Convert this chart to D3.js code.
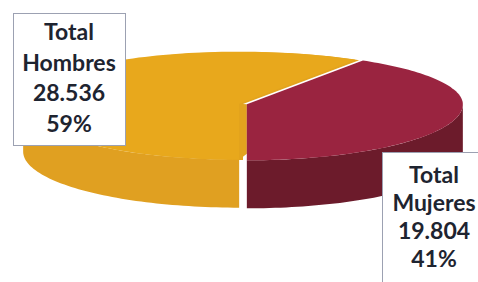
<!DOCTYPE html>
<html>
<head>
<meta charset="utf-8">
<script src="https://cdn.jsdelivr.net/npm/d3@7"></script>
<style>
  html, body { margin: 0; padding: 0; background: #fff; }
  svg { display: block; }
</style>
</head>
<body>
<div id="chart"></div>
<script>
const categories = ["Total Hombres", "Total Mujeres"];
const values = [28536, 19804];
const topColors = ["#e8a81c", "#9a2440"];
const sideColors = ["#e0a021", "#6c1b2b"];

const width = 478, height = 282;

const locale = d3.formatLocale({ decimal: ",", thousands: ".", grouping: [3], currency: ["", "€"] });
const fmtNum = locale.format(",d");
const fmtPct = d3.format(".0%");
const total = d3.sum(values);

// pie geometry (projected ellipse, slightly deeper in front)
const cx = 243, cy = 104, rx = 216, ryBack = 52, ryFront = 56, depth = 48, explode = 4;

const pie = d3.pie().sort(null).startAngle(Math.PI).endAngle(3 * Math.PI);
const arcs = pie(values);

function proj(a, r, dx, dy) {
  const c = Math.cos(a);
  const ry = c > 0 ? ryBack : ryFront;
  return [cx + dx + r * rx * Math.sin(a), cy + dy - r * ry * c];
}

const svg = d3.select("#chart").append("svg")
  .attr("width", width)
  .attr("height", height);

const line = d3.line();

function offset(d) {
  const mid = (d.startAngle + d.endAngle) / 2;
  return [explode * Math.sin(mid), -explode * 0.3 * Math.cos(mid)];
}

function topFace(d, dx, dy) {
  const n = 120;
  const pts = [proj(0, 0, dx, dy)].concat(
    d3.range(n + 1).map(j => proj(d.startAngle + (d.endAngle - d.startAngle) * j / n, 1, dx, dy))
  );
  return line(pts) + "Z";
}

// side walls (front half only: angle between PI/2 and 3PI/2, mod 2PI)
arcs.forEach((d, i) => {
  const [dx, dy] = offset(d);
  const segs = [];
  for (let k = 0; k < 2; k++) {
    const lo = Math.PI / 2 + k * 2 * Math.PI, hi = 3 * Math.PI / 2 + k * 2 * Math.PI;
    const a0 = Math.max(d.startAngle, lo), a1 = Math.min(d.endAngle, hi);
    if (a1 > a0) segs.push([a0, a1]);
  }
  segs.forEach(([a0, a1]) => {
    const n = 60;
    const topPts = d3.range(n + 1).map(j => proj(a0 + (a1 - a0) * j / n, 1, dx, dy));
    const botPts = topPts.map(p => [p[0], p[1] + depth]).reverse();
    svg.append("path")
      .attr("d", line(topPts.concat(botPts)) + "Z")
      .attr("fill", sideColors[i]);
  });
});

// inner faces of the gold slice, seen through the gap between the slices
svg.append("path")
  .attr("d", topFace(arcs[0], 0, 0))
  .attr("fill", "#e2a31e");
{
  const og = offset(arcs[0]), or = offset(arcs[1]);
  const g0 = proj(Math.PI, 0, og[0], og[1]), g1 = proj(Math.PI, 1, og[0], og[1]);
  const r0 = proj(Math.PI, 0, or[0], or[1]);
  svg.append("path")
    .attr("d", line([g0, r0, [r0[0], g1[1] - 6], [g1[0], g1[1]]]) + "Z")
    .attr("fill", "#e2a31e");
}

// top faces
arcs.forEach((d, i) => {
  const [dx, dy] = offset(d);
  svg.append("path")
    .attr("d", topFace(d, dx, dy))
    .attr("fill", topColors[i]);
});

// label boxes
const boxes = [
  { x: 13, y: 13, w: 112, h: 132, cxText: 69, base: 40, step: 30.7 },
  { x: 382, y: 152, w: 110, h: 140, cxText: 434, base: 183, step: 28 }
];

values.forEach((v, i) => {
  const b = boxes[i];
  const g = svg.append("g");
  g.append("rect")
    .attr("x", b.x + 0.5).attr("y", b.y + 0.5)
    .attr("width", b.w).attr("height", b.h)
    .attr("fill", "#fff")
    .attr("stroke", "#9ca1b2")
    .attr("stroke-width", 1);
  const lines = categories[i].split(" ").concat([fmtNum(v), fmtPct(v / total)]);
  g.selectAll("text").data(lines).enter().append("text")
    .attr("x", b.cxText)
    .attr("y", (t, j) => b.base + j * b.step)
    .attr("text-anchor", "middle")
    .style("font-family", "Lato, 'Open Sans', sans-serif")
    .style("font-weight", 700)
    .style("font-size", "23px")
    .attr("fill", "#1e2430")
    .text(t => t);
});
</script>
</body>
</html>
